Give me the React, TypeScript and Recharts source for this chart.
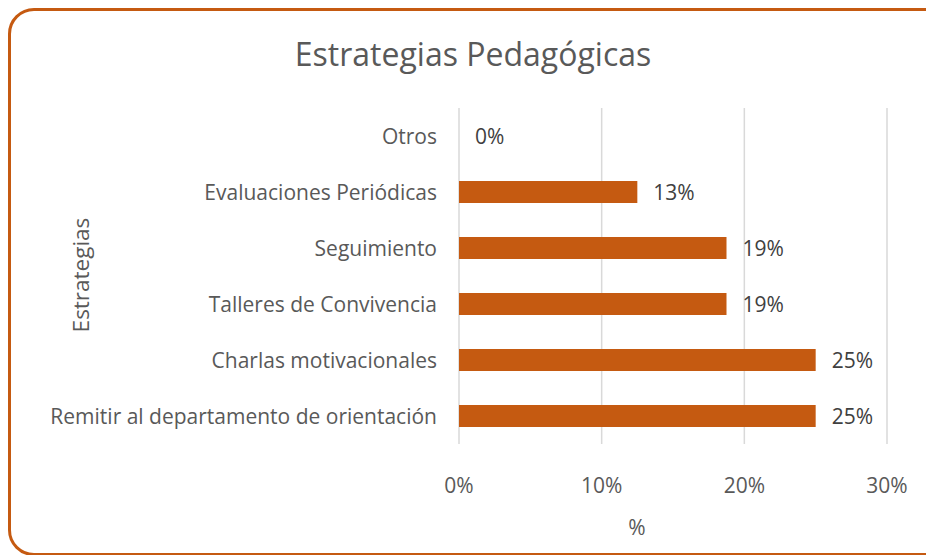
import { BarChart, Bar, XAxis, YAxis, CartesianGrid, Label } from "recharts";

const categories = [
  "Otros",
  "Evaluaciones Periódicas",
  "Seguimiento",
  "Talleres de Convivencia",
  "Charlas motivacionales",
  "Remitir al departamento de orientación",
];
const values = [0, 12.5, 18.75, 18.75, 25, 25];
const xTicks = [0, 10, 20, 30];

const data = categories.map((name, i) => ({ name, value: values[i] }));

const FONT = "'Open Sans', sans-serif";
const TEXT = "#595959";
const BAR = "#C55A11";
const FS = 21;

/* ===== tick renderers ===== */
const YTick = ({ y, payload }: any) => (
  <text
    x={437}
    y={y}
    textAnchor="end"
    dominantBaseline="central"
    fill={TEXT}
    fontSize={FS}
    fontFamily={FONT}
  >
    {payload.value}
  </text>
);

const XTick = ({ x, y, payload }: any) => (
  <text
    x={x}
    y={y + 33}
    textAnchor="middle"
    dominantBaseline="central"
    fill={TEXT}
    fontSize={FS}
    fontFamily={FONT}
  >
    {`${payload.value}%`}
  </text>
);

/* bar + value label drawn together so the 0% label still shows */
const BarWithLabel = ({ x, y, width, height, value }: any) => (
  <g>
    {width > 0 && <rect x={x} y={y} width={width} height={height} fill={BAR} />}
    <text
      x={x + width + 16}
      y={y + height / 2}
      dominantBaseline="central"
      fill="#404040"
      fontSize={FS}
      fontFamily={FONT}
    >
      {`${Math.round(value)}%`}
    </text>
  </g>
);

export default function App() {
  return (
    <div
      style={{
        position: "absolute",
        left: 0,
        top: 0,
        width: 926,
        height: 555,
        overflow: "hidden",
        background: "#fff",
      }}
    >
      <div
        style={{
          position: "absolute",
          left: 8,
          top: 8,
          width: 960,
          height: 548,
          border: `3px solid ${BAR}`,
          borderRadius: 26,
          boxSizing: "border-box",
        }}
      />
      <div
        style={{
          position: "absolute",
          left: 0,
          top: 34,
          width: 946,
          textAlign: "center",
          fontFamily: FONT,
          fontSize: 32,
          color: TEXT,
          lineHeight: "40px",
        }}
      >
        Estrategias Pedagógicas
      </div>
      <div style={{ position: "absolute", left: 0, top: 0 }}>
        <BarChart
          width={926}
          height={555}
          layout="vertical"
          data={data}
          margin={{ top: 108, right: 39, bottom: 0, left: 0 }}
        >
          <CartesianGrid horizontal={false} stroke="#D9D9D9" strokeWidth={1.5} />
          <XAxis
            type="number"
            domain={[0, 30]}
            ticks={xTicks}
            axisLine={false}
            tickLine={false}
            height={111}
            tick={<XTick />}
            interval={0}
          >
            <Label
              content={() => (
                <text
                  x={637}
                  y={527}
                  textAnchor="middle"
                  dominantBaseline="central"
                  fill={TEXT}
                  fontSize={FS}
                  fontFamily={FONT}
                >
                  %
                </text>
              )}
            />
          </XAxis>
          <YAxis
            type="category"
            dataKey="name"
            width={459}
            axisLine={false}
            tickLine={false}
            tick={<YTick />}
            interval={0}
          >
            <Label
              content={() => (
                <text
                  x={80}
                  y={275}
                  transform="rotate(-90 80 275)"
                  textAnchor="middle"
                  dominantBaseline="central"
                  fill={TEXT}
                  fontSize={22.5}
                  fontFamily={FONT}
                >
                  Estrategias
                </text>
              )}
            />
          </YAxis>
          <Bar
            dataKey="value"
            fill={BAR}
            barSize={22}
            isAnimationActive={false}
            shape={<BarWithLabel />}
          />
        </BarChart>
      </div>
    </div>
  );
}
